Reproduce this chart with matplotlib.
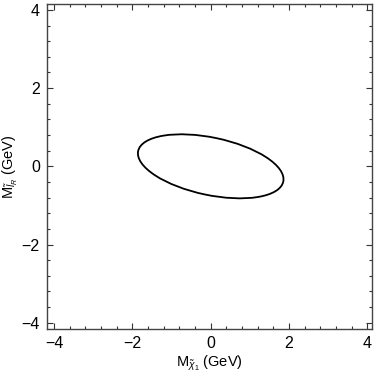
import matplotlib
matplotlib.use("Agg")
import matplotlib.pyplot as plt
from matplotlib.patches import Ellipse
from matplotlib.ticker import MultipleLocator

plt.rcParams["font.family"] = ["Liberation Sans", "DejaVu Sans"]
plt.rcParams["mathtext.fontset"] = "custom"
plt.rcParams["mathtext.rm"] = "Liberation Sans"
plt.rcParams["mathtext.it"] = "Liberation Sans:italic"

# ellipse (contour)
center = (0.0, 0.0)
full_width = 3.79
full_height = 1.47
angle_deg = -11.9

x_limits = [-4.19, 4.13]
y_limits = [-4.16, 4.15]
major_ticks = [-4, -2, 0, 2, 4]

fig = plt.figure(figsize=(3.74, 3.82), dpi=100)
ax = fig.add_axes([0.125, 0.1387, 0.8705, 0.8508])

ell = Ellipse(center, full_width, full_height, angle=angle_deg,
              fill=False, edgecolor="black", linewidth=1.3)
ax.add_patch(ell)

ax.set_xlim(x_limits)
ax.set_ylim(y_limits)
ax.set_xticks(major_ticks)
ax.set_yticks(major_ticks)
ax.xaxis.set_minor_locator(MultipleLocator(0.4))
ax.yaxis.set_minor_locator(MultipleLocator(0.4))

ax.tick_params(which="both", direction="in", top=True, right=True,
               labelsize=11.5, color="#333333", width=0.8)
ax.tick_params(which="major", length=4, pad=5)
ax.tick_params(which="minor", length=2)

for s in ax.spines.values():
    s.set_linewidth(1.0)
    s.set_color("#444444")

ax.set_xlabel(r"M$_{\tilde{\chi}_1}$ (GeV)", fontsize=10.5, labelpad=2)
ax.set_ylabel(r"M$_{\tilde{l}_R}$ (GeV)", fontsize=10.5, labelpad=1)

fig.savefig("out.png", dpi=100)
